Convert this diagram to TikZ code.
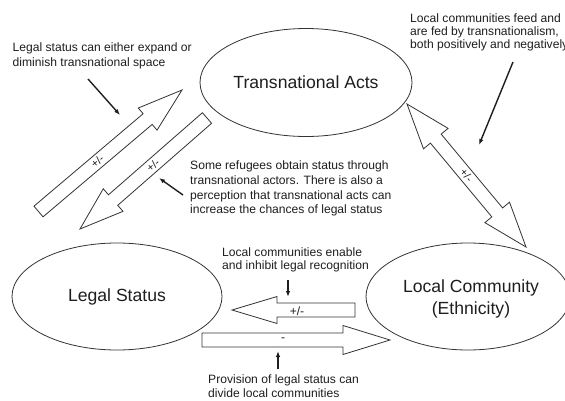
\documentclass[tikz,border=0pt]{standalone}
\usepackage{fontspec}
\setmainfont{Liberation Sans}
\usetikzlibrary{shapes.geometric,calc,arrows.meta}
\definecolor{ink}{HTML}{333333}
\definecolor{txt}{HTML}{1E1E1E}
\tikzset{
  oval/.style={ellipse, draw=ink, line width=0.8pt, inner sep=0pt, font=\fontsize{17.6}{20}\selectfont, text=txt, align=center},
  blk/.style={draw=ink, line width=0.8pt, fill=white, line join=miter},
  note/.style={inner sep=0pt, text=txt, align=left, font=\fontsize{12.1}{14.2}\selectfont},
  pm/.style={inner sep=0pt, text=txt, font=\fontsize{11}{13}\selectfont},
  pmh/.style={inner sep=0pt, text=txt, font=\fontsize{12}{14}\selectfont},
  pointer/.style={draw=txt, line width=1.4pt, -{Latex[length=6pt,width=4.5pt]}}
}
% single block arrow: tail, tip, half shaft, half head, head length
\newcommand{\sblock}[6]{%
  \coordinate (#6) at ($(#2)!#5!(#1)$);
  \draw[blk] ($(#1)!#3!90:(#2)$) -- ($(#6)!#3!90:(#2)$) -- ($(#6)!#4!90:(#2)$) -- (#2)
    -- ($(#6)!#4!-90:(#2)$) -- ($(#6)!#3!-90:(#2)$) -- ($(#1)!#3!-90:(#2)$) -- cycle;}
% double block arrow: end1, end2, half shaft, half head, head length
\newcommand{\dblock}[7]{%
  \coordinate (#6) at ($(#2)!#5!(#1)$);
  \coordinate (#7) at ($(#1)!#5!(#2)$);
  \draw[blk] ($(#7)!#3!90:(#2)$) -- ($(#6)!#3!90:(#2)$) -- ($(#6)!#4!90:(#2)$) -- (#2)
    -- ($(#6)!#4!-90:(#2)$) -- ($(#6)!#3!-90:(#2)$) -- ($(#7)!#3!-90:(#2)$)
    -- ($(#7)!#4!-90:(#2)$) -- (#1) -- ($(#7)!#4!90:(#2)$) -- cycle;}
\begin{document}
\begin{tikzpicture}[x=1pt,y=-1pt]
\useasboundingbox (0,0) rectangle (565,400);
\clip (0,0) rectangle (565,400);
\fill[white] (0,0) rectangle (565,400);

% ellipses
\node[oval, minimum width=212pt, minimum height=108pt] (ta) at (306,82.5) {Transnational Acts};
\node[oval, minimum width=210pt, minimum height=107pt] (ls) at (117,296.5) {Legal Status};
\node[oval, minimum width=204pt, minimum height=107pt] (lc) at (468,296.5) {};
\node[inner sep=0pt, text=txt, align=center, font=\fontsize{17.6}{22}\selectfont] (lct) at (471,299) {Local Community\\(Ethnicity)};

% block arrow end points
\coordinate (aT) at (38.5,211.5);
\coordinate (aP) at (182,90);
\coordinate (bT) at (207,118);
\coordinate (bP) at (80,229);
\coordinate (rA) at (526,247);
\coordinate (rB) at (407,104);
\coordinate (cT) at (355,310);
\coordinate (cP) at (232,310);
\coordinate (dT) at (202,340);
\coordinate (dP) at (390,340);

\sblock{aT}{aP}{7pt}{14.5pt}{45pt}{aH}
\sblock{bT}{bP}{7pt}{15pt}{44pt}{bH}
\dblock{rA}{rB}{7pt}{16pt}{45pt}{rH1}{rH2}
\sblock{cT}{cP}{7pt}{13.5pt}{45pt}{cH}
\sblock{dT}{dP}{7pt}{14.5pt}{47pt}{dH}

% labels on block arrows
\node[pm, rotate=40.3] (al) at ($(aT)!0.41!(aP)$) {+/-};
\node[pm, rotate=41.2] (bl) at ($(bT)!0.425!(bP)$) {+/-};
\node[pm, rotate=-50.2] (rl) at ($(rB)!0.5!(rA)$) {+/-};
\node[pmh] (cl) at (297,311) {+/-};
\node[pmh] (dl) at (283,340) {-};

% annotation texts
\node[note, anchor=north west] (n1) at (12.5,43) {Legal status can either expand or\\diminish transnational space};
\node[note, anchor=north west, font=\fontsize{12.1}{13}\selectfont] (n2) at (410,14) {Local communities feed and\\are fed by transnationalism,\\both positively and negatively};
\node[note, anchor=north west, font=\fontsize{12.1}{14.6}\selectfont] (n3) at (190,161) {Some refugees obtain status through\\transnational actors. There is also a\\perception that transnational acts can\\increase the chances of legal status};
\node[note, anchor=north west, font=\fontsize{12.1}{12.6}\selectfont] (n4) at (222,248) {Local communities enable\\and inhibit legal recognition};
\node[note, anchor=north west, font=\fontsize{12.1}{13.3}\selectfont] (n5) at (208,375) {Provision of legal status can\\divide local communities};

% pointers
\coordinate (p1s) at (88,79);   \coordinate (p1e) at (120,115);
\coordinate (p2s) at (183,195); \coordinate (p2e) at (159,178);
\coordinate (p3s) at (513,62);  \coordinate (p3e) at (479,145);
\coordinate (p4s) at (288,280); \coordinate (p4e) at (288,297);
\coordinate (p5s) at (278,369); \coordinate (p5e) at (278,351);
\draw[pointer] (p1s) -- (p1e);
\draw[pointer] (p2s) -- (p2e);
\draw[pointer] (p3s) -- (p3e);
\draw[pointer] (p4s) -- (p4e);
\draw[pointer] (p5s) -- (p5e);
\end{tikzpicture}
\end{document}
